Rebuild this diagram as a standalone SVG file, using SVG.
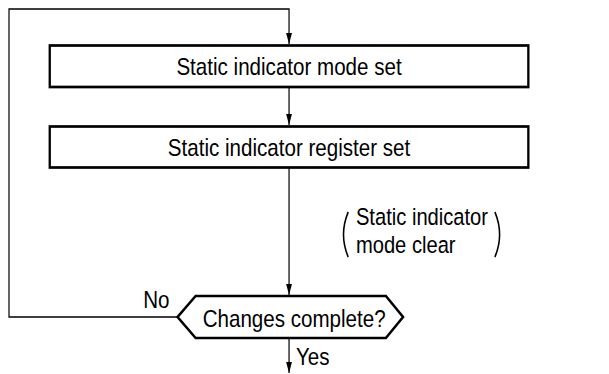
<svg xmlns="http://www.w3.org/2000/svg" width="609" height="374" viewBox="0 0 609 374">
<defs>
<marker id="ah" markerWidth="11" markerHeight="8" refX="11" refY="4" orient="auto" markerUnits="userSpaceOnUse" viewBox="0 0 11 8">
<path d="M0,0.6 L11,4 L0,7.4 Z" fill="#000"/>
</marker>
</defs>
<style>
.box{fill:#fff;stroke:#000;stroke-width:2.7}
.conn{fill:none;stroke:#000;stroke-width:1.4}
.lbl{font-family:"Liberation Sans",Arial,Helvetica,sans-serif;font-size:24px;fill:#000}
.paren{fill:none;stroke:#000;stroke-width:1.8}
</style>
<rect width="609" height="374" fill="#fff"/>
<g transform="scale(0.8577,1)">
<g id="connectors">
<path class="conn" d="M207,317 H10.5 V9 H337 V44" marker-end="url(#ah)"/>
<path class="conn" d="M337,87 V125" marker-end="url(#ah)"/>
<path class="conn" d="M337,168 V295" marker-end="url(#ah)"/>
<path class="conn" d="M337,338 V373" marker-end="url(#ah)"/>
<text class="lbl" x="167" y="308">No</text>
<text class="lbl" x="345" y="365">Yes</text>
</g>
<g id="node-mode-set">
<rect class="box" x="58" y="45.5" width="558" height="41.5"/>
<text class="lbl" x="337" y="75" text-anchor="middle">Static indicator mode set</text>
</g>
<g id="node-register-set">
<rect class="box" x="58" y="126.5" width="558" height="41"/>
<text class="lbl" x="337" y="156" text-anchor="middle">Static indicator register set</text>
</g>
<g id="note-mode-clear">
<path class="paren" d="M406,212 Q395,234.5 406,257"/>
<path class="paren" d="M577,212 Q588,234.5 577,257"/>
<text class="lbl" x="415" y="225" style="font-size:23.5px">Static indicator</text>
<text class="lbl" x="415" y="253" style="font-size:23.5px">mode clear</text>
</g>
<g id="node-decision">
<polygon class="box" points="207,317 228,296 450,296 470,317 450,338 228,338"/>
<text class="lbl" x="343" y="327" text-anchor="middle">Changes complete?</text>
</g>
</g>
</svg>
